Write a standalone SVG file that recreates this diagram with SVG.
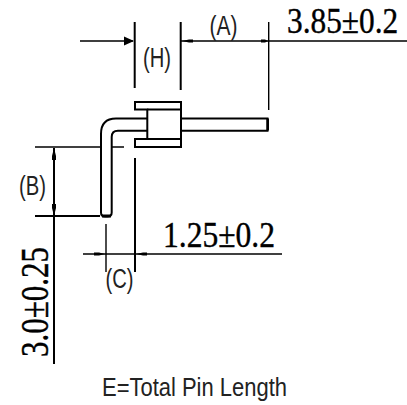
<svg xmlns="http://www.w3.org/2000/svg" width="407" height="405" viewBox="0 0 407 405">
<style>
.l{stroke:#000;fill:none;stroke-width:1.400}
.h{stroke:#000;fill:none;stroke-width:2}
.b{stroke:#000;fill:#fff;stroke-width:2}
.s{font-family:"Liberation Sans",Arial,sans-serif;fill:#222}
.t{font-family:"Liberation Serif","Times New Roman",serif;fill:#000;stroke:#000;stroke-width:.4}
</style>
<rect width="407" height="405" fill="#fff"/>
<g id="connectors">
<path class="l" d="M80 41H133M181 41H407"/>
<path d="M124 36.500L134 41L124 45.500Z" fill="#000"/>
<path d="M182 41L189 39.500H193V42.500H189ZM265 39.500H261V42.500H265L268 41Z" fill="#000"/>
<path class="h" d="M134.700 22V88M180.700 22V90"/>
<path class="l" d="M268.700 22V110"/>
<path class="l" d="M35 147H124"/>
<path class="h" d="M135 158V272"/>
<path class="h" d="M35 216H100M54 148V364"/>
<path d="M54 148L56 156V160H52V156ZM54 216L52 208V204H56V208Z" fill="#000"/>
<path class="l" d="M106 224V272"/>
<path class="l" d="M83 254H282"/>
<path d="M94 252.500H99L105 254L99 255.500H94ZM143 252.500H147V255.500H143L136 254Z" fill="#000"/>
</g>
<g id="pin">
<path class="b" d="M147 118.500H116Q101 118.500 101 134V212.500Q101 216.500 105 216.500H107.500Q111.700 216.500 111.700 212.500V137Q111.700 130.700 118 130.700H147"/>
<path d="M102 214.500H111V217.500H102Z" fill="#000"/>
<path class="b" d="M181 118.500H267.500V130.700H181"/>
<path d="M266.500 118.500h2.500v12h-2.500Z" fill="#000"/>
</g>
<g id="connector-body">
<path class="h" d="M147.300 109.500H135V102H181V147H135V139H147.300Z" fill="#fff"/>
<path class="h" d="M147.300 109.500H181M147.300 139H181"/>
</g>
<g id="labels">
<text class="s" x="209.500" y="35" font-size="27" textLength="28" lengthAdjust="spacingAndGlyphs">(A)</text>
<text class="s" x="143" y="67" font-size="27" textLength="28" lengthAdjust="spacingAndGlyphs">(H)</text>
<text class="s" x="19" y="195" font-size="27" textLength="27" lengthAdjust="spacingAndGlyphs">(B)</text>
<text class="s" x="105.500" y="288" font-size="27" textLength="28" lengthAdjust="spacingAndGlyphs">(C)</text>
<text class="t" transform="translate(287 33) scale(.87 1)" font-size="36">3.85±0.2</text>
<text class="t" x="163" y="247" font-size="36" textLength="112" lengthAdjust="spacingAndGlyphs">1.25±0.2</text>
<text class="t" transform="translate(48 357) rotate(-90)" font-size="40" textLength="110" lengthAdjust="spacingAndGlyphs">3.0±0.25</text>
<text class="s" x="102" y="396" font-size="26" textLength="185" lengthAdjust="spacingAndGlyphs">E=Total Pin Length</text>
</g>
</svg>
